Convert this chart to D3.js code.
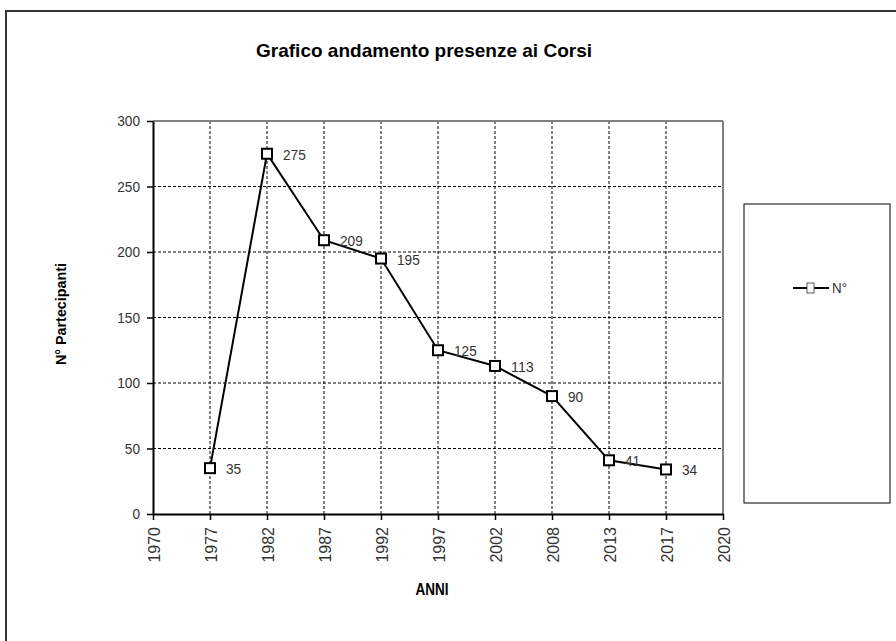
<!DOCTYPE html>
<html>
<head>
<meta charset="utf-8">
<script src="https://cdn.jsdelivr.net/npm/d3@7"></script>
<style>
  html, body { margin: 0; padding: 0; background: #fff; }
  svg { display: block; }
  text { font-family: "Liberation Sans", Arial, sans-serif; }
</style>
</head>
<body>
<svg id="chart" width="896" height="641"></svg>
<script>
// ---- data ----
const categories = ["1970","1977","1982","1987","1992","1997","2002","2008","2013","2017","2020"];
const pointYears = ["1977","1982","1987","1992","1997","2002","2008","2013","2017"];
const participants = [35, 275, 209, 195, 125, 113, 90, 41, 34];
const yTicks = [0, 50, 100, 150, 200, 250, 300];
const seriesName = "N°";
const titleText = "Grafico andamento presenze ai Corsi";
const xTitle = "ANNI";
const yTitle = "N° Partecipanti";

const svg = d3.select("#chart");
const plot = { left: 153, right: 723, top: 121, bottom: 514 };

// outer frame
svg.append("rect").attr("x", 6).attr("y", 11).attr("width", 1000).attr("height", 1000)
  .attr("fill", "none").attr("stroke", "#333").attr("stroke-width", 2);

const x = d3.scalePoint().domain(categories).range([plot.left, plot.right]);
const y = d3.scaleLinear().domain([0, 300]).range([plot.bottom, plot.top]);

// grid
const grid = svg.append("g");
grid.selectAll("line.h").data(yTicks.filter(t => t > 0 && t < 300)).join("line")
  .attr("x1", plot.left).attr("x2", plot.right)
  .attr("y1", d => y(d)).attr("y2", d => y(d))
  .attr("stroke", "#000").attr("stroke-width", 1).attr("stroke-dasharray", "3,2");
grid.selectAll("line.v").data(categories.slice(1, -1)).join("line")
  .attr("x1", d => x(d)).attr("x2", d => x(d))
  .attr("y1", plot.top).attr("y2", plot.bottom)
  .attr("stroke", "#000").attr("stroke-width", 1).attr("stroke-dasharray", "3,2");

// plot border (top/right gray)
svg.append("line").attr("x1", plot.left).attr("x2", plot.right).attr("y1", plot.top).attr("y2", plot.top)
  .attr("stroke", "#808080").attr("stroke-width", 2);
svg.append("line").attr("x1", plot.right).attr("x2", plot.right).attr("y1", plot.top).attr("y2", plot.bottom)
  .attr("stroke", "#808080").attr("stroke-width", 2);

// y axis
const yAxis = svg.append("g").attr("transform", `translate(${plot.left},0)`)
  .call(d3.axisLeft(y).tickValues(yTicks).tickSize(6).tickPadding(7).tickSizeOuter(0));
yAxis.select(".domain").attr("stroke", "#000").attr("stroke-width", 2);
yAxis.selectAll(".tick line").attr("stroke", "#000").attr("stroke-width", 1.5);
yAxis.selectAll(".tick text").attr("font-size", 15).attr("fill", "#333")
  .attr("font-family", "Liberation Sans, Arial, sans-serif")
  .attr("textLength", d => String(d).length * 7.6).attr("lengthAdjust", "spacingAndGlyphs");

// x axis
const xAxis = svg.append("g").attr("transform", `translate(0,${plot.bottom})`)
  .call(d3.axisBottom(x).tickSize(6).tickSizeOuter(0));
xAxis.select(".domain").attr("stroke", "#000").attr("stroke-width", 2);
xAxis.selectAll(".tick line").attr("stroke", "#000").attr("stroke-width", 1.5);
xAxis.selectAll(".tick text")
  .attr("font-size", 16).attr("fill", "#333")
  .attr("font-family", "Liberation Sans, Arial, sans-serif")
  .attr("text-anchor", "end")
  .attr("dy", null)
  .attr("y", 0).attr("x", 0)
  .attr("transform", "translate(6,13) rotate(-90)");

// line
const pts = pointYears.map((yr, i) => ({ yr, v: participants[i] }));
svg.append("path").datum(pts)
  .attr("d", d3.line().x(d => x(d.yr)).y(d => y(d.v)))
  .attr("fill", "none").attr("stroke", "#000").attr("stroke-width", 2);

// markers
svg.selectAll("rect.mk").data(pts).join("rect")
  .attr("x", d => x(d.yr) - 5).attr("y", d => y(d.v) - 5)
  .attr("width", 10).attr("height", 10)
  .attr("fill", "#fff").attr("stroke", "#000").attr("stroke-width", 2);

// data labels
svg.selectAll("text.lbl").data(pts).join("text")
  .attr("x", d => x(d.yr) + 16).attr("y", d => y(d.v) + 6)
  .attr("font-size", 15).attr("fill", "#333")
  .attr("textLength", d => String(d.v).length * 7.6).attr("lengthAdjust", "spacingAndGlyphs")
  .text(d => d.v);

// title
svg.append("text").attr("x", 424).attr("y", 57).attr("text-anchor", "middle")
  .attr("font-size", 19).attr("font-weight", "bold").attr("fill", "#000")
  .attr("textLength", 336).attr("lengthAdjust", "spacingAndGlyphs")
  .text(titleText);

// axis titles
svg.append("text").attr("x", 432).attr("y", 595).attr("text-anchor", "middle")
  .attr("font-size", 17).attr("font-weight", "bold").attr("fill", "#000")
  .attr("textLength", 33).attr("lengthAdjust", "spacingAndGlyphs")
  .text(xTitle);
svg.append("text").attr("transform", "translate(66,314) rotate(-90)").attr("text-anchor", "middle")
  .attr("font-size", 15).attr("font-weight", "bold").attr("fill", "#000")
  .attr("textLength", 102).attr("lengthAdjust", "spacingAndGlyphs")
  .text(yTitle);

// legend
const lg = svg.append("g");
lg.append("rect").attr("x", 744).attr("y", 204).attr("width", 146).attr("height", 299)
  .attr("fill", "#fff").attr("stroke", "#000").attr("stroke-width", 1);
lg.append("line").attr("x1", 793).attr("x2", 829).attr("y1", 288).attr("y2", 288)
  .attr("stroke", "#000").attr("stroke-width", 2);
lg.append("rect").attr("x", 807).attr("y", 283).attr("width", 7).attr("height", 10)
  .attr("fill", "#fff").attr("stroke", "#555").attr("stroke-width", 1);
lg.append("text").attr("x", 832).attr("y", 293).attr("font-size", 14).attr("fill", "#333")
  .attr("textLength", 15).attr("lengthAdjust", "spacingAndGlyphs")
  .text(seriesName);
</script>
</body>
</html>
